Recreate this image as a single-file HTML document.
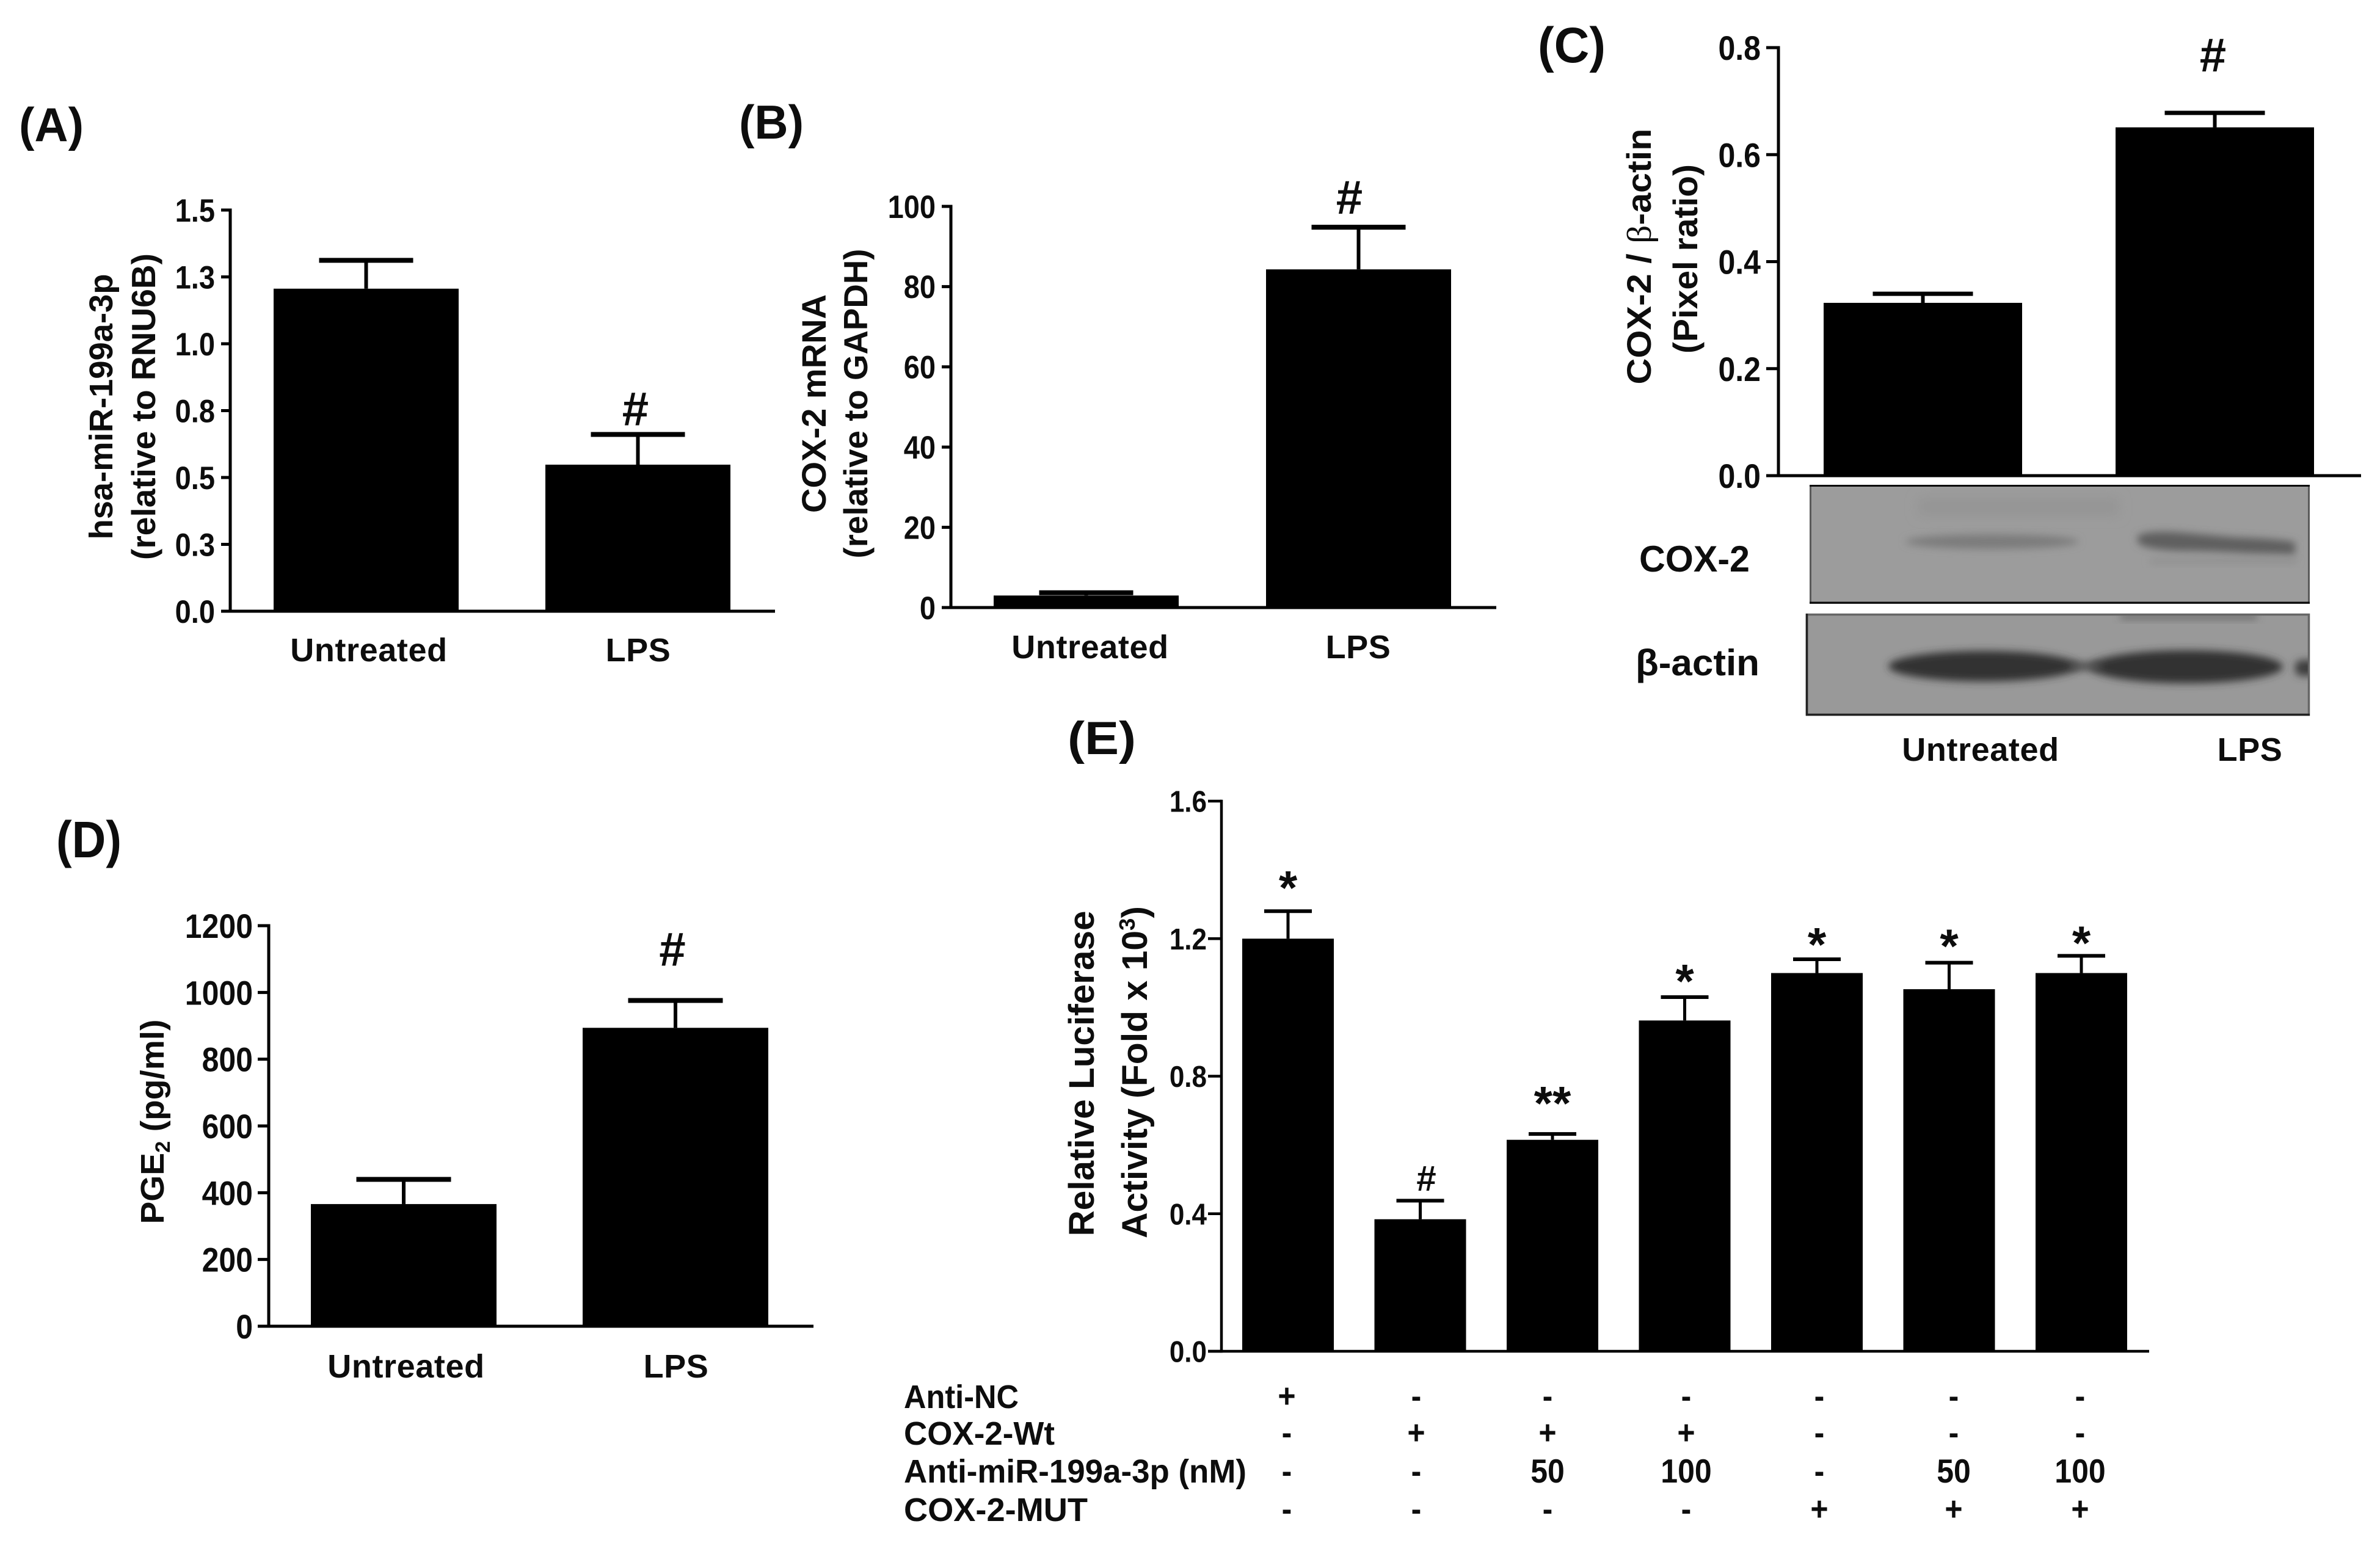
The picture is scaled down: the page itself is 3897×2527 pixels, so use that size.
<!DOCTYPE html>
<html lang="en">
<head>
<meta charset="utf-8">
<title>COX-2 and miR-199a-3p bar chart panels</title>
<style>
  html, body { margin: 0; padding: 0; background: #fff; }
  svg { display: block; }
  text { font-family: "Liberation Sans", "DejaVu Sans", sans-serif; font-weight: bold; fill: #0d0d0d; }
</style>
</head>
<body>
<svg id="figure" xmlns="http://www.w3.org/2000/svg" width="3897" height="2527" viewBox="0 0 3897 2527">
  <defs>
    <filter id="blur-heavy" x="-30%" y="-150%" width="160%" height="400%"><feGaussianBlur stdDeviation="9"/></filter>
    <filter id="blur-soft" x="-30%" y="-150%" width="160%" height="400%"><feGaussianBlur stdDeviation="6.5"/></filter>
    <clipPath id="clip-blot-cox"><rect x="2963" y="794" width="819" height="194"/></clipPath>
    <clipPath id="clip-blot-actin"><rect x="2957" y="1005" width="825" height="167"/></clipPath>
  </defs>
  <rect width="3897" height="2527" fill="#ffffff"/>

  <!-- panel letters -->
  <text x="31" y="231" font-size="78" textLength="106" lengthAdjust="spacingAndGlyphs">(A)</text>
  <text x="1210" y="227" font-size="78" textLength="106" lengthAdjust="spacingAndGlyphs">(B)</text>
  <text x="2518" y="102" font-size="82" textLength="111" lengthAdjust="spacingAndGlyphs">(C)</text>
  <text x="92" y="1404" font-size="84" textLength="107" lengthAdjust="spacingAndGlyphs">(D)</text>
  <text x="1748" y="1235" font-size="76" textLength="112" lengthAdjust="spacingAndGlyphs">(E)</text>

  <!-- y axis titles -->
  <text transform="translate(184,666) rotate(-90)" text-anchor="middle" font-size="54" textLength="435" lengthAdjust="spacingAndGlyphs">hsa-miR-199a-3p</text>
  <text transform="translate(254,666) rotate(-90)" text-anchor="middle" font-size="55" textLength="502" lengthAdjust="spacingAndGlyphs">(relative to RNU6B)</text>
  <text transform="translate(1352,661) rotate(-90)" text-anchor="middle" font-size="56" textLength="358" lengthAdjust="spacingAndGlyphs">COX-2 mRNA</text>
  <text transform="translate(1420,661) rotate(-90)" text-anchor="middle" font-size="55" textLength="507" lengthAdjust="spacingAndGlyphs">(relative to GAPDH)</text>
  <text transform="translate(2703,420) rotate(-90)" text-anchor="middle" font-size="56" textLength="419" lengthAdjust="spacingAndGlyphs">COX-2 / <tspan style="font-family:'Liberation Serif',serif;font-weight:normal">β</tspan>-actin</text>
  <text transform="translate(2779,424) rotate(-90)" text-anchor="middle" font-size="56" textLength="310" lengthAdjust="spacingAndGlyphs">(Pixel ratio)</text>
  <text transform="translate(268,1837) rotate(-90)" text-anchor="middle" font-size="54" textLength="335" lengthAdjust="spacingAndGlyphs">PGE<tspan font-size="34" dy="10">2</tspan><tspan dy="-10"> (pg/ml)</tspan></text>
  <text transform="translate(1791,1758) rotate(-90)" text-anchor="middle" font-size="58" textLength="533" lengthAdjust="spacingAndGlyphs">Relative Luciferase</text>
  <text transform="translate(1878,1756) rotate(-90)" text-anchor="middle" font-size="58" textLength="544" lengthAdjust="spacingAndGlyphs">Activity (Fold x 10<tspan font-size="36" dy="-20">3</tspan><tspan dy="20">)</tspan></text>

  <!-- western blots -->
  <g>
    <rect x="2963" y="794" width="819" height="194" fill="#9c9c9c"/>
    <g clip-path="url(#clip-blot-cox)">
      <rect x="3140" y="815" width="330" height="30" fill="#959595" filter="url(#blur-heavy)"/>
      <ellipse cx="3262" cy="887" rx="142" ry="12" fill="#7c7c7c" filter="url(#blur-soft)"/>
      <path d="M3500 878 Q3515 868 3570 872 L3660 880 Q3730 882 3758 888 L3758 908 L3680 906 Q3620 902 3570 902 Q3510 900 3500 888 Z" fill="#5e5e5e" filter="url(#blur-soft)"/>
      <rect x="3520" y="916" width="240" height="6" fill="#8a8a8a" filter="url(#blur-soft)"/>
    </g>
    <rect x="2964.5" y="795.5" width="816" height="192" fill="none" stroke="#5a5a5a" stroke-width="3"/>
    <path d="M2963 795.5 H3782 M2963 987 H3782" stroke="#0a0a0a" stroke-width="3" fill="none"/>
  </g>
  <g>
    <rect x="2957" y="1005" width="825" height="167" fill="#999999"/>
    <g clip-path="url(#clip-blot-actin)">
      <rect x="3472" y="1007" width="224" height="6" fill="#555555" filter="url(#blur-soft)"/>
      <ellipse cx="3248" cy="1091" rx="156" ry="25" fill="#333333" filter="url(#blur-soft)"/>
      <ellipse cx="3580" cy="1092" rx="158" ry="27" fill="#333333" filter="url(#blur-soft)"/>
      <rect x="3390" y="1084" width="50" height="14" fill="#505050" filter="url(#blur-soft)"/>
      <rect x="3758" y="1081" width="40" height="26" rx="10" fill="#3c3c3c" filter="url(#blur-soft)"/>
    </g>
    <rect x="2958.5" y="1006.5" width="822" height="164" fill="none" stroke="#666666" stroke-width="3.5"/>
    <path d="M2958.5 1005 V1172 M2957 1170.5 H3782" stroke="#222222" stroke-width="3.5" fill="none"/>
  </g>
  <text x="2684" y="936" font-size="60" textLength="181" lengthAdjust="spacingAndGlyphs">COX-2</text>
  <text x="2678" y="1106" font-size="60" textLength="203" lengthAdjust="spacingAndGlyphs">β-actin</text>

  <!-- treatment table row labels -->
  <text x="1480" y="2306" font-size="54" textLength="188" lengthAdjust="spacingAndGlyphs">Anti-NC</text>
  <text x="1480" y="2366" font-size="54" textLength="247" lengthAdjust="spacingAndGlyphs">COX-2-Wt</text>
  <text x="1480" y="2428" font-size="54" textLength="561" lengthAdjust="spacingAndGlyphs">Anti-miR-199a-3p (nM)</text>
  <text x="1480" y="2491" font-size="54" textLength="301" lengthAdjust="spacingAndGlyphs">COX-2-MUT</text>
</svg>

<script>
/* ---------- chart data ---------- */
const panelACategories = ["Untreated", "LPS"];
const panelAMeans = [1.206, 0.548];
const panelAErrorTops = [1.312, 0.661];
const panelAMarkers = ["", "#"];
const panelATicks = [0, 0.25, 0.5, 0.75, 1, 1.25, 1.5];
const panelATickLabels = ["0.0", "0.3", "0.5", "0.8", "1.0", "1.3", "1.5"];

const panelBCategories = ["Untreated", "LPS"];
const panelBMeans = [3, 84.3];
const panelBErrorTops = [3.7, 94.8];
const panelBMarkers = ["", "#"];
const panelBTicks = [0, 20, 40, 60, 80, 100];
const panelBTickLabels = ["0", "20", "40", "60", "80", "100"];

const panelCCategories = ["Untreated", "LPS"];
const panelCMeans = [0.323, 0.651];
const panelCErrorTops = [0.34, 0.678];
const panelCMarkers = ["", "#"];
const panelCTicks = [0, 0.2, 0.4, 0.6, 0.8];
const panelCTickLabels = ["0.0", "0.2", "0.4", "0.6", "0.8"];

const panelDCategories = ["Untreated", "LPS"];
const panelDMeans = [366, 894];
const panelDErrorTops = [440, 976];
const panelDMarkers = ["", "#"];
const panelDTicks = [0, 200, 400, 600, 800, 1000, 1200];
const panelDTickLabels = ["0", "200", "400", "600", "800", "1000", "1200"];

const panelECategories = ["group-1", "group-2", "group-3", "group-4", "group-5", "group-6", "group-7"];
const panelEMeans = [1.2, 0.384, 0.615, 0.962, 1.1, 1.053, 1.1];
const panelEErrorTops = [1.28, 0.438, 0.632, 1.03, 1.14, 1.13, 1.15];
const panelEMarkers = ["*", "#", "**", "*", "*", "*", "*"];
const panelETicks = [0, 0.4, 0.8, 1.2, 1.6];
const panelETickLabels = ["0.0", "0.4", "0.8", "1.2", "1.6"];

const tableAntiNC = ["+", "-", "-", "-", "-", "-", "-"];
const tableCoxWt = ["-", "+", "+", "+", "-", "-", "-"];
const tableAntiMir = ["-", "-", "50", "100", "-", "50", "100"];
const tableCoxMut = ["-", "-", "-", "-", "+", "+", "+"];

/* ---------- drawing ---------- */
const svgNS = "http://www.w3.org/2000/svg";
const figure = document.getElementById("figure");

function add(parent, tag) {
  const node = document.createElementNS(svgNS, tag);
  parent.appendChild(node);
  return node;
}
function line(node, x1, y1, x2, y2, width) {
  node.setAttribute("x1", x1);
  node.setAttribute("y1", y1);
  node.setAttribute("x2", x2);
  node.setAttribute("y2", y2);
  node.setAttribute("stroke", "#000");
  node.setAttribute("stroke-width", width);
}
function label(node, x, y, anchor, size, content) {
  node.setAttribute("x", x);
  node.setAttribute("y", y);
  node.setAttribute("text-anchor", anchor);
  node.setAttribute("font-size", size);
  node.textContent = content;
}
/* the reference type is slightly condensed: taller glyphs at the same width */
function condense(node, baseSize, tallFactor) {
  node.setAttribute("font-size", baseSize);
  const width = node.getComputedTextLength();
  node.setAttribute("font-size", baseSize * tallFactor);
  node.setAttribute("textLength", width);
  node.setAttribute("lengthAdjust", "spacingAndGlyphs");
}

function drawPanel(name, categories, means, errorTops, markers, ticks, tickLabels, opts) {
  const g = add(figure, "g");
  
  

  const yMax = ticks[ticks.length - 1];
  const yScale = function (v) { return opts.y0 - (v / yMax) * (opts.y0 - opts.yTop); };
  const barLeft = function (i) { return opts.firstBar + i * opts.barStep; };

  categories.forEach(function (cat, i) {
    const center = barLeft(i) + opts.barWidth / 2;

    const stem = add(g, "line");
    
    
    line(stem, center, yScale(errorTops[i]), center, yScale(means[i]), opts.stem);

    const cap = add(g, "line");
    
    
    line(cap, center - opts.cap / 2, yScale(errorTops[i]), center + opts.cap / 2, yScale(errorTops[i]), opts.capStroke);

    const bar = add(g, "rect");
    
    
    bar.setAttribute("x", barLeft(i));
    bar.setAttribute("y", yScale(means[i]));
    bar.setAttribute("width", opts.barWidth);
    bar.setAttribute("height", opts.y0 - yScale(means[i]));
    bar.setAttribute("fill", "#000");

    if (markers[i]) {
      const isStar = markers[i].charAt(0) === "*";
      const size = isStar ? opts.starSize : opts.hashSize;
      const gap = opts.markerGaps ? opts.markerGaps[i] : opts.markerGap;
      const shift = opts.markerShifts ? opts.markerShifts[i] : opts.markerShift;
      const centerY = yScale(errorTops[i]) - gap;
      const mark = add(g, "text");
      
      
      label(mark, center + (shift || 0), centerY + (isStar ? 0.57 : 0.36) * size, "middle", size, markers[i]);
    }

    if (opts.showCategoryLabels) {
      const catLabel = add(g, "text");
      
      
      label(catLabel, opts.labelX[i], opts.labelY, "middle", 54, cat);
      catLabel.setAttribute("letter-spacing", "0.6");
    }
  });

  const yAxis = add(g, "line");
  
  
  line(yAxis, opts.axisX, opts.yTop - opts.axisStroke / 2, opts.axisX, opts.y0 + opts.axisStroke / 2, opts.axisStroke);

  const xAxis = add(g, "line");
  
  
  line(xAxis, opts.tickLeft, opts.y0, opts.axisRight, opts.y0, opts.axisStroke);

  ticks.forEach(function (t, i) {
    const tick = add(g, "line");
    
    
    line(tick, opts.tickLeft, yScale(t), opts.axisX, yScale(t), opts.axisStroke);

    const tl = add(g, "text");
    
    
    label(tl, opts.tickLeft - opts.tickPad, yScale(t) + 0.4 * opts.tickFont, "end", opts.tickFont, tickLabels[i]);
    condense(tl, opts.tickFont, 1.12);
  });
}

drawPanel("panel-a-chart", panelACategories, panelAMeans, panelAErrorTops, panelAMarkers, panelATicks, panelATickLabels, {
  axisX: 377, tickLeft: 362, axisRight: 1269, yTop: 344, y0: 1001, firstBar: 448, barWidth: 303, barStep: 445,
  cap: 154, stem: 6, capStroke: 8, axisStroke: 5, tickFont: 47, tickPad: 10, hashSize: 78, markerGap: 43, markerShift: -4,
  showCategoryLabels: true, labelX: [604, 1045], labelY: 1083
});
drawPanel("panel-b-chart", panelBCategories, panelBMeans, panelBErrorTops, panelBMarkers, panelBTicks, panelBTickLabels, {
  axisX: 1557, tickLeft: 1542, axisRight: 2450, yTop: 338, y0: 995, firstBar: 1627, barWidth: 303, barStep: 446,
  cap: 154, stem: 6, capStroke: 8, axisStroke: 5, tickFont: 47, tickPad: 10, hashSize: 78, markerGap: 50, markerShift: -15,
  showCategoryLabels: true, labelX: [1785, 2224], labelY: 1078
});
drawPanel("panel-c-chart", panelCCategories, panelCMeans, panelCErrorTops, panelCMarkers, panelCTicks, panelCTickLabels, {
  axisX: 2912, tickLeft: 2892, axisRight: 3866, yTop: 78, y0: 779, firstBar: 2986, barWidth: 325, barStep: 478,
  cap: 164, stem: 6, capStroke: 7, axisStroke: 5, tickFont: 50, tickPad: 9, hashSize: 78, markerGap: 96, markerShift: -3,
  showCategoryLabels: false
});
drawPanel("panel-d-chart", panelDCategories, panelDMeans, panelDErrorTops, panelDMarkers, panelDTicks, panelDTickLabels, {
  axisX: 440, tickLeft: 422, axisRight: 1332, yTop: 1516, y0: 2172, firstBar: 509, barWidth: 304, barStep: 445,
  cap: 155, stem: 6, capStroke: 8, axisStroke: 5, tickFont: 50, tickPad: 8, hashSize: 78, markerGap: 85, markerShift: -5,
  showCategoryLabels: true, labelX: [665, 1107], labelY: 2256
});
const panelEMarkerGapPx = [56, 37, 68, 44, 42, 45, 39];
const panelEMarkerShiftPx = [0, 10, 0, 0, 0, 0, 0];
drawPanel("panel-e-chart", panelECategories, panelEMeans, panelEErrorTops, panelEMarkers, panelETicks, panelETickLabels, {
  axisX: 2000, tickLeft: 1978, axisRight: 3519, yTop: 1312, y0: 2213, firstBar: 2034, barWidth: 150, barStep: 216.5,
  cap: 78, stem: 5, capStroke: 6, axisStroke: 4.5, tickFont: 44, tickPad: 2, hashSize: 58, starSize: 78,
  markerGaps: panelEMarkerGapPx, markerShifts: panelEMarkerShiftPx,
  showCategoryLabels: false
});

/* Untreated / LPS captions sit under the blots in panel C */
const panelCCaptionX = [3243, 3684];
panelCCategories.forEach(function (cat, i) {
  const caption = add(figure, "text");
  
  
  label(caption, panelCCaptionX[i], 1246, "middle", 54, cat);
  caption.setAttribute("letter-spacing", "0.6");
});

/* treatment table under panel E */
const tableColumnX = [2107, 2319, 2534, 2761, 2979, 3199, 3406];
const tableRowsY = [2305, 2365, 2428, 2490];
[tableAntiNC, tableCoxWt, tableAntiMir, tableCoxMut].forEach(function (row, r) {
  row.forEach(function (value, c) {
    const cell = add(figure, "text");
    
    
    label(cell, tableColumnX[c], tableRowsY[r], "middle", 50, value);
    condense(cell, 50, 1.1);
  });
});
</script>
</body>
</html>
